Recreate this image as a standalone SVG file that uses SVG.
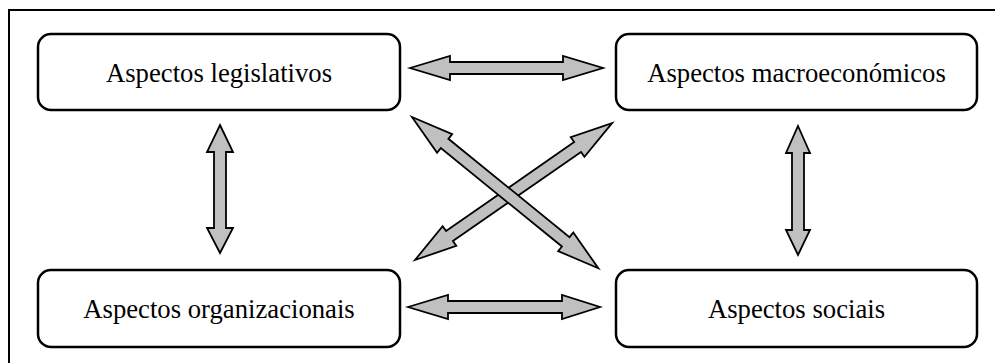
<svg xmlns="http://www.w3.org/2000/svg" width="995" height="363" viewBox="0 0 995 363">
  <style>
    .frame { fill: none; stroke: #000; stroke-width: 2; }
    .box { fill: #fff; stroke: #000; stroke-width: 2.5; }
    .label { font-family: 'Liberation Serif', 'DejaVu Serif', Times, serif; font-size: 26.7px; fill: #000; text-anchor: middle; }
    .arrow { fill: #c0c0c0; stroke: #000; stroke-width: 1.8; stroke-linejoin: miter; }
  </style>
  <rect width="995" height="363" fill="#fff"/>
  <rect class="frame" x="9" y="10" width="1000" height="400"/>

  <g id="node-legislativos">
    <rect class="box" x="38" y="34" width="362" height="76" rx="13"/>
    <text class="label" x="219" y="81.5">Aspectos legislativos</text>
  </g>
  <g id="node-macroeconomicos">
    <rect class="box" x="616" y="34" width="361" height="76" rx="13"/>
    <text class="label" x="796.5" y="81.5">Aspectos macroeconómicos</text>
  </g>
  <g id="node-organizacionais">
    <rect class="box" x="38" y="270" width="362" height="77" rx="13"/>
    <text class="label" x="219" y="318">Aspectos organizacionais</text>
  </g>
  <g id="node-sociais">
    <rect class="box" x="616" y="270" width="361" height="77" rx="13"/>
    <text class="label" x="796.5" y="318">Aspectos sociais</text>
  </g>

  <g id="connectors">
    <!-- horizontal double arrows -->
    <path class="arrow" d="M410,68 L450,56 L450,62 L563,62 L563,56 L603,68 L563,80 L563,74 L450,74 L450,80 Z"/>
    <path class="arrow" d="M408,307 L448,295 L448,301 L562,301 L562,295 L600,307 L562,319 L562,313 L448,313 L448,319 Z"/>
    <!-- vertical double arrows -->
    <path class="arrow" d="M220,125 L233,152 L226,152 L226,228 L233,228 L220,253 L207,228 L214,228 L214,152 L207,152 Z"/>
    <path class="arrow" d="M798,126 L810,153 L804,153 L804,230 L810,230 L798,255 L786,230 L792,230 L792,153 L786,153 Z"/>
    <!-- diagonal double arrows -->
    <g transform="translate(415,260) rotate(-34.8)">
      <path class="arrow" d="M0,0 L42,-12 L42,-6 L198,-6 L198,-12 L240,0 L198,12 L198,6 L42,6 L42,12 Z"/>
    </g>
    <g transform="translate(412,117) rotate(39.07)">
      <path class="arrow" d="M0,0 L42,-12 L42,-6 L198,-6 L198,-12 L240,0 L198,12 L198,6 L42,6 L42,12 Z"/>
    </g>
  </g>
</svg>
